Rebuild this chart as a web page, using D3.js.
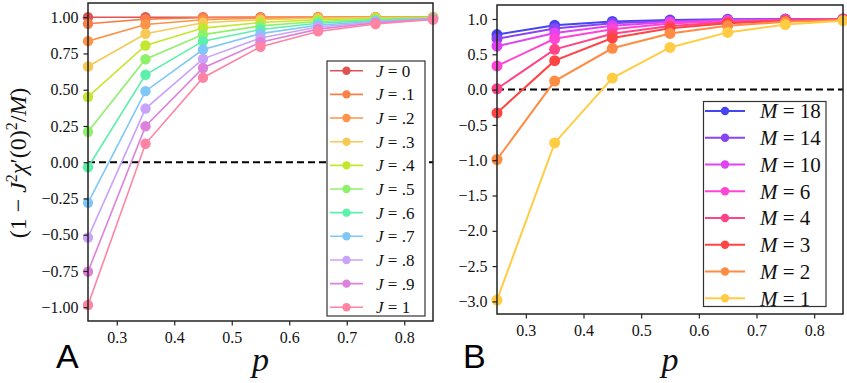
<!DOCTYPE html>
<html><head><meta charset="utf-8">
<script src="https://cdn.jsdelivr.net/npm/d3@7"></script>
<style>
body{margin:0;background:#fff;}
svg{display:block;}
</style></head>
<body><svg id="c" width="847" height="383"></svg>
<script>
const pValues = [0.25,0.35,0.45,0.55,0.65,0.75,0.85];

const jLabels = ["0",".1",".2",".3",".4",".5",".6",".7",".8",".9","1"];
const jColors = ["#e05353","#f88048","#fd9348","#f5c955","#c3e72e","#8ff06c","#5cf0aa","#7ec7f7","#c9a3f9","#dd82da","#ff83a3"];
const jValues = [
  [1,1,1,1,1,1,1],
  [0.955,0.987,0.996,0.999,1,1,1],
  [0.835,0.95,0.982,0.994,0.998,1,1],
  [0.66,0.886,0.962,0.982,0.993,0.998,1],
  [0.45,0.805,0.925,0.963,0.983,0.993,0.998],
  [0.21,0.71,0.88,0.94,0.97,0.985,0.995],
  [-0.035,0.603,0.835,0.915,0.958,0.978,0.992],
  [-0.28,0.49,0.777,0.887,0.945,0.972,0.99],
  [-0.52,0.37,0.713,0.857,0.932,0.966,0.988],
  [-0.755,0.248,0.65,0.827,0.918,0.96,0.986],
  [-0.985,0.127,0.583,0.796,0.902,0.953,0.984]
];

const mLabels = ["18","14","10","6","4","3","2","1"];
const mColors = ["#4444f2","#8a44f2","#e044f2","#ff44d6","#ff4488","#ff4444","#ff8c44","#ffcc44"];
const mValues = [
  [0.78,0.91,0.965,0.985,0.995,0.998,1.0],
  [0.72,0.865,0.94,0.973,0.99,0.996,1.0],
  [0.615,0.80,0.905,0.958,0.982,0.993,0.998],
  [0.335,0.72,0.855,0.935,0.972,0.988,0.996],
  [0.012,0.57,0.79,0.9,0.955,0.982,0.993],
  [-0.33,0.41,0.73,0.87,0.94,0.975,0.99],
  [-0.99,0.12,0.585,0.795,0.905,0.96,0.985],
  [-2.98,-0.755,0.163,0.597,0.81,0.922,0.976]
];

const xTicks = [0.3,0.4,0.5,0.6,0.7,0.8];
const yTicksA = [-1,-0.75,-0.5,-0.25,0,0.25,0.5,0.75,1];
const yTicksB = [-3,-2.5,-2,-1.5,-1,-0.5,0,0.5,1];

const svg = d3.select("#c");
const serif = "Liberation Serif";
const minus = s => s.replace(/^-/, "\u2212");

function panel(cfg){
  const g = svg.append("g");
  const x = d3.scaleLinear().domain([0.25,0.85]).range([cfg.x0,cfg.x1]);
  const y = d3.scaleLinear().domain(cfg.yDomain).range([cfg.y1,cfg.y0]);
  g.append("line").attr("x1",cfg.x0).attr("x2",cfg.x1).attr("y1",y(0)).attr("y2",y(0))
    .attr("stroke","#000").attr("stroke-width",2).attr("stroke-dasharray","7,4");
  const line = d3.line().x((d,i)=>x(pValues[i])).y(d=>y(d));
  cfg.series.forEach((vals,k)=>{
    const col = cfg.colors[k];
    g.append("path").datum(vals).attr("d",line).attr("fill","none")
      .attr("stroke",col).attr("stroke-width",cfg.lw);
    g.selectAll(null).data(vals).enter().append("circle")
      .attr("cx",(d,i)=>x(pValues[i])).attr("cy",d=>y(d)).attr("r",cfg.r).attr("fill",col);
  });
  const xa = g.append("g").attr("transform",`translate(0,${cfg.y1})`)
    .call(d3.axisBottom(x).tickValues(xTicks).tickFormat(d3.format(".1f")).tickSizeOuter(0).tickSize(4.5).tickPadding(6));
  const ya = g.append("g").attr("transform",`translate(${cfg.x0},0)`)
    .call(d3.axisLeft(y).tickValues(cfg.yTicks).tickFormat(d=>minus(d3.format(cfg.fmt)(d))).tickSizeOuter(0).tickSize(4.5).tickPadding(5));
  [xa,ya].forEach(a=>{
    a.attr("font-family",serif).attr("font-size",16);
    a.select(".domain").remove();
    a.selectAll("line").attr("stroke","#222").attr("stroke-width",1.2);
    a.selectAll("text").attr("font-family",serif).attr("font-size",16).attr("fill","#111");
  });
  g.append("rect").attr("x",cfg.x0).attr("y",cfg.y0).attr("width",cfg.x1-cfg.x0).attr("height",cfg.y1-cfg.y0)
    .attr("fill","none").attr("stroke","#222").attr("stroke-width",1.5);
  const L = cfg.legend;
  g.append("rect").attr("x",L.x).attr("y",L.y).attr("width",L.w).attr("height",L.h)
    .attr("fill","#fff").attr("stroke","#333").attr("stroke-width",1.2);
  cfg.labels.forEach((lab,k)=>{
    const yy = L.first + k*L.step;
    const col = cfg.colors[k];
    g.append("line").attr("x1",L.lx0).attr("x2",L.lx1).attr("y1",yy).attr("y2",yy)
      .attr("stroke",col).attr("stroke-width",cfg.lw);
    g.append("circle").attr("cx",(L.lx0+L.lx1)/2).attr("cy",yy).attr("r",L.r).attr("fill",col);
    const t = g.append("text").attr("x",L.tx).attr("y",yy+L.fs*0.35)
      .attr("font-family",serif).attr("font-size",L.fs).attr("fill","#111");
    t.append("tspan").attr("font-style","italic").text(cfg.sym);
    t.append("tspan").text(" = " + lab);
  });
  g.append("text").attr("x",(cfg.x0+cfg.x1)/2).attr("y",371).attr("text-anchor","middle")
    .attr("font-family",serif).attr("font-style","italic").attr("font-size",34).attr("fill","#111").text("p");
  g.append("text").attr("x",cfg.letterX).attr("y",368).attr("font-family","Liberation Sans")
    .attr("font-size",34).attr("fill","#000").text(cfg.letter);
  return g;
}

panel({x0:88,x1:433,y0:3,y1:321,yDomain:[-1.095,1.098],yTicks:yTicksA,fmt:".2f",
  series:jValues,colors:jColors,labels:jLabels,sym:"J",lw:1.6,r:5.2,letter:"A",letterX:56,
  legend:{x:327,y:61,w:98,h:255,first:70.7,step:23.66,lx0:330,lx1:363,r:4.2,tx:376,fs:17}});

panel({x0:497,x1:843,y0:5,y1:314,yDomain:[-3.178,1.198],yTicks:yTicksB,fmt:".1f",
  series:mValues,colors:mColors,labels:mLabels,sym:"M",lw:2,r:5.5,letter:"B",letterX:463,
  legend:{x:703.5,y:101.5,w:122.5,h:205,first:111,step:26.75,lx0:705,lx1:745,r:4.2,tx:760,fs:21}});

const yl = svg.append("text").attr("transform","translate(26,163) rotate(-90)").attr("text-anchor","middle")
  .attr("font-family",serif).attr("font-size",24).attr("fill","#111");
yl.append("tspan").text("(1 \u2212 ");
yl.append("tspan").attr("font-style","italic").text("J");
yl.append("tspan").attr("font-size",16).attr("dy",-9).text("2");
yl.append("tspan").attr("font-style","italic").attr("dy",9).text("\u03C7");
yl.append("tspan").text("\u2032(0)");
yl.append("tspan").attr("font-size",16).attr("dy",-9).text("2");
yl.append("tspan").attr("dy",9).text("/");
yl.append("tspan").attr("font-style","italic").text("M");
yl.append("tspan").text(")");
</script></body></html>
